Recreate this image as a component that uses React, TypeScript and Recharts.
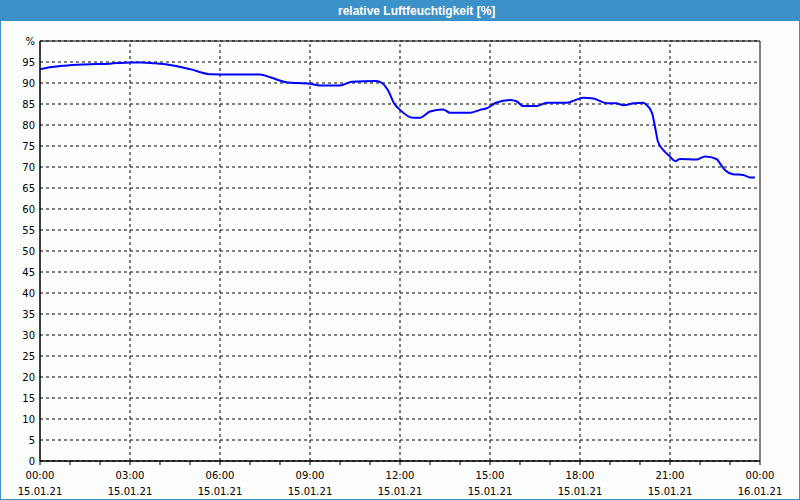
import { LineChart, Line, XAxis, YAxis, CartesianGrid, ReferenceLine, ReferenceArea } from 'recharts';

// hours since 15.01.21 00:00
const hours = [
  0, 0.4, 0.8, 1.5, 2.33, 3, 3.4, 3.8, 4.33, 5, 5.67, 6.5, 7.33, 7.7, 8.2, 9, 9.33, 10, 10.4, 11.2,
  11.4, 11.6, 11.8, 12, 12.44, 12.67, 13, 13.44, 13.67, 14.33, 14.67, 14.9, 15.2, 15.67, 15.9, 16.1,
  16.55, 16.9, 17.55, 17.8, 18.1, 18.45, 18.9, 19.2, 19.45, 19.8, 20.1, 20.2, 20.4, 20.5, 20.6, 20.78,
  21, 21.17, 21.33, 21.9, 22.17, 22.55, 22.7, 22.83, 23.1, 23.44, 23.67, 23.83,
];
const humidity = [
  93.3, 93.8, 94.1, 94.4, 94.6, 94.9, 94.9, 94.7, 94.3, 93.3, 92.1, 92.0, 92.0, 91.3, 90.2, 89.8, 89.4, 89.4, 90.3, 90.5,
  90.0, 88.3, 85.2, 83.6, 81.7, 81.7, 83.2, 83.7, 82.9, 82.9, 83.6, 84.0, 85.3, 85.95, 85.6, 84.5,
  84.5, 85.3, 85.3, 85.8, 86.5, 86.3, 85.2, 85.2, 84.7, 85.2, 85.3, 84.9, 82.9, 79.6, 76.0, 74.0,
  72.5, 71.4, 71.9, 71.8, 72.5, 71.9, 70.5, 69.3, 68.3, 68.1, 67.5, 67.5,
];

const hourTicks = Array.from({ length: 25 }, (_, i) => i);
const gridHours = [3, 6, 9, 12, 15, 18, 21];
const yTicks = Array.from({ length: 21 }, (_, i) => i * 5);
const timeLabels = ['00:00', '03:00', '06:00', '09:00', '12:00', '15:00', '18:00', '21:00', '00:00'];
const dateLabels = ['15.01.21', '15.01.21', '15.01.21', '15.01.21', '15.01.21', '15.01.21', '15.01.21', '15.01.21', '16.01.21'];

const data = hours.map((h, i) => ({ h, v: humidity[i] }));

const font = '"DejaVu Sans", Tahoma, sans-serif';

function HourTick(props: any) {
  const { x, y, payload } = props;
  const v = payload.value;
  if (v % 3 !== 0) return null;
  const idx = v / 3;
  return (
    <g>
      <text x={x} y={y + 14} textAnchor="middle" fontSize={10} fontFamily={font} fill="#000">{timeLabels[idx]}</text>
      <text x={x} y={y + 30} textAnchor="middle" fontSize={10} fontFamily={font} fill="#000">{dateLabels[idx]}</text>
    </g>
  );
}

export default function App() {
  return (
    <div style={{ position: 'absolute', left: 0, top: 0, width: 798, height: 498, border: '1px solid #3c91c8', background: '#fcfefe' }}>
      <div style={{ position: 'absolute', left: 0, top: 0, width: 798, height: 20, background: '#3c91c8' }}>
        <div style={{ position: 'absolute', left: 337, top: 3, color: '#fff', fontFamily: '"Liberation Sans", sans-serif', fontWeight: 'bold', fontSize: 12, whiteSpace: 'nowrap' }}>
          relative Luftfeuchtigkeit [%]
        </div>
      </div>
      <div style={{ position: 'absolute', left: -1, top: -1 }}>
        <LineChart width={800} height={500} data={data} margin={{ top: 41, right: 40, bottom: 1, left: 0 }}>
          <CartesianGrid vertical={false} stroke="#000" strokeDasharray="3 3" />
          {gridHours.map((g) => (
            <ReferenceLine key={g} x={g} stroke="#000" strokeDasharray="3 3" />
          ))}
          <ReferenceArea x1={0} x2={24} y1={0} y2={100} fill="none" stroke="#000" strokeWidth={1} />
          <XAxis
            dataKey="h"
            type="number"
            domain={[0, 24]}
            ticks={hourTicks}
            interval={0}
            height={38}
            tickSize={4}
            tickMargin={0}
            stroke="#000"
            tick={<HourTick />}
          />
          <YAxis
            type="number"
            domain={[0, 100]}
            ticks={yTicks}
            interval={0}
            width={40}
            tickLine={false}
            tickSize={0}
            tickMargin={5}
            stroke="#000"
            tickFormatter={(v: number) => (v === 100 ? '%' : String(v))}
            tick={{ fill: '#000', fontSize: 10, fontFamily: font }}
          />
          <Line type="monotone" dataKey="v" stroke="#0000ff" strokeWidth={2} dot={false} isAnimationActive={false} />
        </LineChart>
      </div>
    </div>
  );
}
